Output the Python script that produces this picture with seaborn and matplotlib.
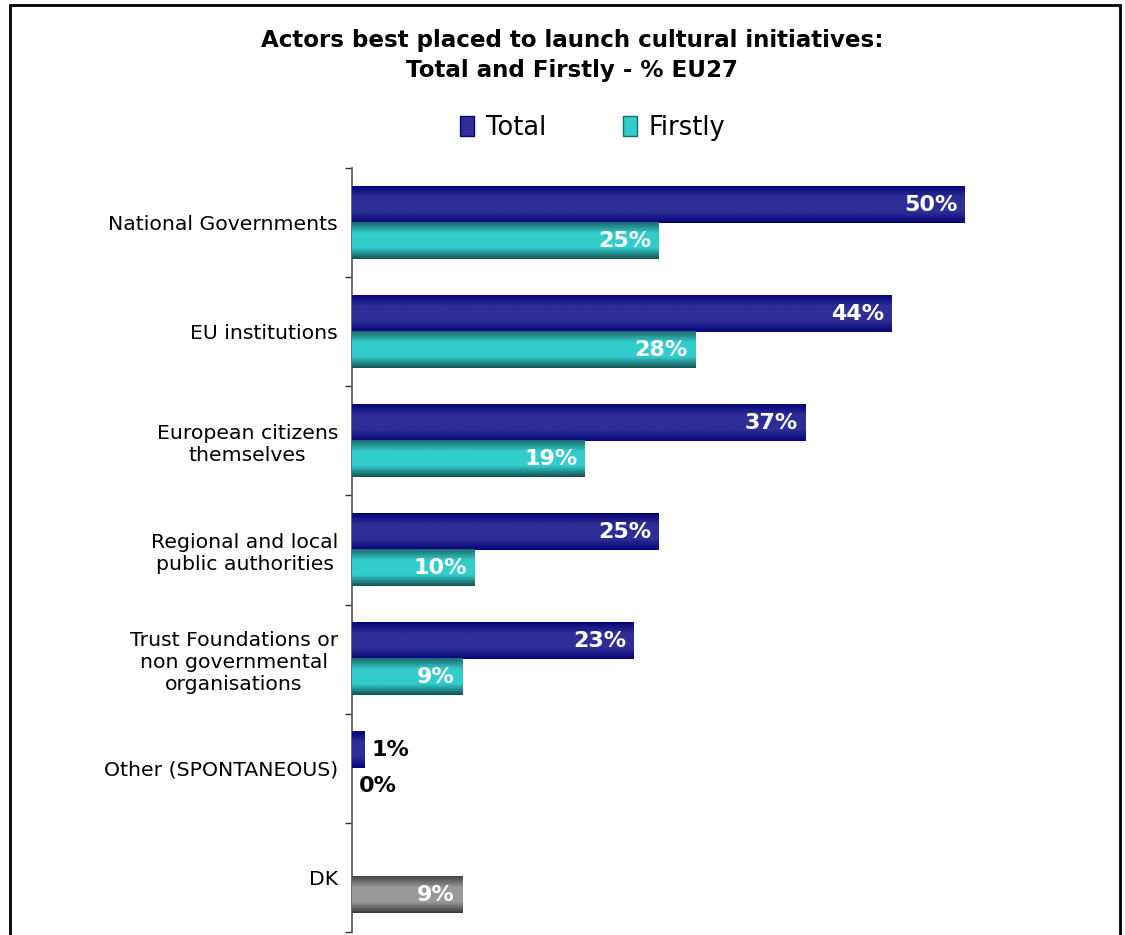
import numpy as np
import pandas as pd
import matplotlib
matplotlib.use('Agg')
import matplotlib.pyplot as plt
import matplotlib.patches as mpatches
from matplotlib.colors import LinearSegmentedColormap
import seaborn as sns

categories = ['National Governments', 'EU institutions',
              'European citizens\nthemselves',
              'Regional and local\npublic authorities',
              'Trust Foundations or\nnon governmental\norganisations',
              'Other (SPONTANEOUS)', 'DK']
total = [50, 44, 37, 25, 23, 1, np.nan]
firstly = [25, 28, 19, 10, 9, 0, 9]

df = pd.DataFrame({'Actor': categories * 2,
                   'Series': ['Total'] * 7 + ['Firstly'] * 7,
                   'Value': total + firstly})
df = df.dropna()

# gradient colours: edge, middle, edge
grad_cols = {'Total': ['#05057a', '#2e2e96', '#2e2e96', '#05057a'],
             'Firstly': ['#1d6b6b', '#33cccc', '#33cccc', '#145454'],
             'DK': ['#444444', '#999999', '#999999', '#3a3a3a']}

sns.set_style('white')
plt.rcParams['font.family'] = ['DejaVu Sans']
plt.rcParams['text.color'] = 'black'
plt.rcParams['ytick.color'] = 'black'

fig = plt.figure(figsize=(11.25, 9.35), dpi=100)
ax = fig.add_axes([352 / 1125, 3 / 935, 0.65, (932 - 168) / 935])

sns.barplot(data=df, y='Actor', x='Value', hue='Series', order=categories,
            hue_order=['Total', 'Firstly'], orient='h', width=0.66,
            palette={'Total': '#2e2e96', 'Firstly': '#33cccc'},
            legend=False, ax=ax)

xmax = (1125 * (352 / 1125 + 0.65) - 352) / 12.26
ax.set_xlim(0, xmax)
ax.set_ylim(6.5, -0.5)

vals = np.linspace(0, 1, 64).reshape(-1, 1)
for cont, ser in zip(ax.containers, ['Total', 'Firstly']):
    for bar in cont:
        w = bar.get_width()
        y0 = bar.get_y()
        h = bar.get_height()
        idx = int(round(y0 + h / 2))
        key = 'DK' if categories[idx] == 'DK' else ser
        if not np.isfinite(w):
            continue
        bar.set_alpha(0)
        if w > 0:
            cmap = LinearSegmentedColormap.from_list(key, list(zip([0, 0.3, 0.7, 1], grad_cols[key])))
            ax.imshow(vals, cmap=cmap, extent=[0, w, y0 + h, y0], aspect='auto',
                      interpolation='bilinear', zorder=3)
        lbl = f'{w:.0f}%'
        if w >= 5:
            ax.text(w - 0.6, y0 + h / 2, lbl, ha='right', va='center', color='white',
                    fontsize=16, fontweight='bold', zorder=4)
        else:
            ax.text(w + 0.6, y0 + h / 2, lbl, ha='left', va='center', color='black',
                    fontsize=16, fontweight='bold', zorder=4)

ax.set_xlim(0, xmax)
ax.set_ylim(6.5, -0.5)
ax.set_xlabel('')
ax.set_ylabel('')
ax.set_xticks([])
for s in ['top', 'right', 'bottom']:
    ax.spines[s].set_visible(False)
ax.spines['left'].set_color('#555555')
ax.spines['left'].set_linewidth(1.2)
ax.set_yticks(range(len(categories)))
ax.set_yticklabels(categories, fontsize=14.7, multialignment='center')
ax.set_yticks(np.arange(-0.5, 7, 1), minor=True)
ax.tick_params(axis='y', which='major', length=0, pad=10)
ax.tick_params(axis='y', which='minor', length=5, width=1, color='#333333', left=True)

fig.text(572 / 1125, 1 - 40 / 935, 'Actors best placed to launch cultural initiatives:',
         ha='center', va='center', fontsize=16.6, fontweight='bold')
fig.text(572 / 1125, 1 - 71 / 935, 'Total and Firstly - % EU27',
         ha='center', va='center', fontsize=16.6, fontweight='bold')

handles = [mpatches.Patch(facecolor='#2e2e96', edgecolor='#05057a', label='Total'),
           mpatches.Patch(facecolor='#33cccc', edgecolor='#1d6b6b', label='Firstly')]
fig.legend(handles=handles, loc='center', bbox_to_anchor=(0.527, 1 - 128 / 935), ncol=2,
           frameon=False, fontsize=18.5, handlelength=0.55, handleheight=0.8,
           handletextpad=0.45, columnspacing=3.0)

fig.add_artist(mpatches.Rectangle((10 / 1125, -0.1), 1110 / 1125, 1.1 - 5 / 935,
                                  transform=fig.transFigure, fill=False,
                                  edgecolor='black', linewidth=2))

fig.savefig('out.png', dpi=100)
